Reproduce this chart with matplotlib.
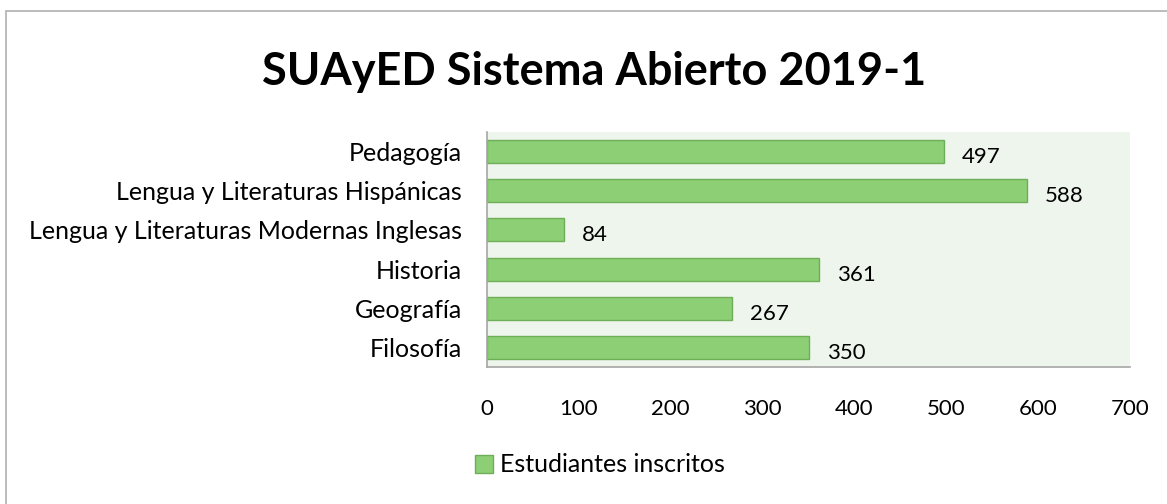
import matplotlib
matplotlib.use("Agg")
import matplotlib.pyplot as plt
from matplotlib.patches import Rectangle, Patch

categories = ["Pedagogía", "Lengua y Literaturas Hispánicas",
              "Lengua y Literaturas Modernas Inglesas", "Historia",
              "Geografía", "Filosofía"]
values = [497, 588, 84, 361, 267, 350]
series_name = "Estudiantes inscritos"
title = "SUAyED Sistema Abierto 2019-1"
xticks = [0, 100, 200, 300, 400, 500, 600, 700]

FONT = "Lato"
W, H = 1167, 504
fig = plt.figure(figsize=(W / 100, H / 100), dpi=100)
fig.patch.set_facecolor("white")

# outer chart border
fig.add_artist(Rectangle((6 / W, -0.1), 1.2, 1 - 11 / H + 0.1, transform=fig.transFigure,
                         fill=False, edgecolor="#b0b0b0", linewidth=1.2))

ax = fig.add_axes([487 / W, 1 - 367 / H, (1130 - 487) / W, (367 - 132) / H])
ax.set_facecolor("#eef5ec")

ypos = list(range(len(categories)))
bar_color = "#8ccf74"
edge_color = "#6fae58"
ax.barh(ypos, values, height=0.59, color=bar_color, edgecolor=edge_color, linewidth=1)
ax.set_ylim(len(categories) - 0.5, -0.5)
ax.set_xlim(0, 700)
ax.set_yticks(ypos)
ax.set_yticklabels(categories, fontsize=18, family=FONT)
ax.set_xticks(xticks)
ax.set_xticklabels([str(t) for t in xticks], fontsize=16, family=FONT)
ax.tick_params(axis="x", length=0, pad=23)
ax.tick_params(axis="y", length=0, pad=18)
for s in ["top", "right"]:
    ax.spines[s].set_visible(False)
for s in ["left", "bottom"]:
    ax.spines[s].set_color("#a6a6a6")
    ax.spines[s].set_linewidth(1.2)

for y, v in zip(ypos, values):
    ax.annotate(str(v), (v, y), xytext=(13, -4), textcoords="offset points",
                va="center", ha="left", fontsize=16, family=FONT, color="black")

fig.text(594 / W, 1 - 72 / H, title, ha="center", va="center",
         fontsize=32.5, fontweight="bold", family=FONT)

leg = fig.legend(handles=[Patch(facecolor=bar_color, edgecolor=edge_color, label=series_name)],
                 loc="center", bbox_to_anchor=(600 / W, 1 - 465 / H), frameon=False,
                 prop={"family": FONT, "size": 18}, handlelength=0.7, handleheight=0.7,
                 handletextpad=0.3)

fig.savefig("out.png", dpi=100)
